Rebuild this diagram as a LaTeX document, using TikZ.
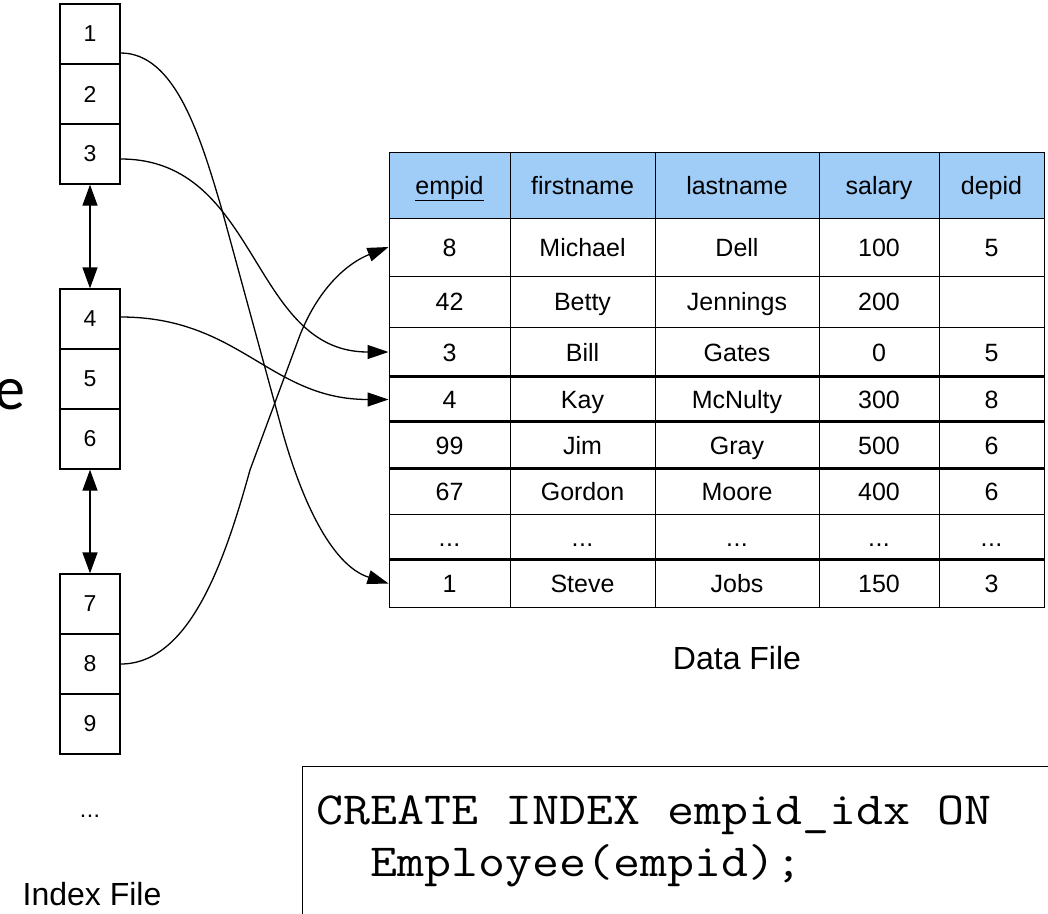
\documentclass[tikz,border=0pt]{standalone}
\usepackage{fontspec}
\usepackage{graphicx}
\setmainfont{Liberation Sans}
\newfontfamily\calib{Carlito}
\usetikzlibrary{arrows.meta,calc}
\definecolor{hdrblue}{HTML}{9FCDF7}
\newcommand\tdots{.\kern0.5pt.\kern0.5pt.}
\newcommand\codeline[1]{\scalebox{1.14}[1]{\ttfamily\fontsize{46}{52}\selectfont #1}}
\begin{document}
\begin{tikzpicture}[x=1pt,y=-1pt,
  idx/.style={draw, line width=1.3pt, minimum width=60pt, minimum height=60pt, inner sep=0pt, font=\fontsize{23}{26}\selectfont},
  cellbox/.style={draw, line width=1pt, inner sep=0pt, text height=18pt, text depth=0pt, font=\fontsize{25}{28}\selectfont},
  hdrbox/.style={cellbox, fill=hdrblue},
  link/.style={line width=1.3pt, -{Triangle[length=21pt,width=14pt]}},
  dbl/.style={line width=1.3pt, {Triangle[length=21pt,width=15pt]}-{Triangle[length=21pt,width=15pt]}},
  thickrule/.style={line width=2.2pt},
  lbl/.style={inner sep=0pt}
]
\useasboundingbox (0,0) rectangle (1048,913);
\clip (0,0) rectangle (1048,913);

% left cut-off letter
\node[lbl, anchor=base west, font=\calib\fontsize{62}{70}\selectfont] (etitle) at (-6,409) {e};

% index file
\foreach \n/\y in {1/34,2/94,3/154,4/319,5/379,6/439,7/604,8/664,9/724}
  \node[idx] (i\n) at (90,\y) {\n};
\draw[dbl] (i3.south) -- (i4.north);
\draw[dbl] (i6.south) -- (i7.north);
\node[lbl, anchor=base, font=\fontsize{23}{26}\selectfont] (idots) at (90,817) {\tdots};
\node[lbl, anchor=base, font=\fontsize{32}{36}\selectfont] (ilabel) at (92,905) {Index File};

% table header
\foreach \j/\x/\w/\t in {1/449.5/121/\underline{empid},2/582.5/145/firstname,3/737/164/lastname,4/879/120/salary,5/991.5/105/depid}
  \node[hdrbox, minimum width=\w pt, minimum height=66pt] (h\j) at (\x,185) {\t};

% table rows
\foreach \r/\yc/\h/\a/\b/\c/\d/\e in {
  1/247/58/8/Michael/Dell/100/5,
  2/301.5/51/42/Betty/Jennings/200/{},
  3/352/50/3/Bill/Gates/0/5,
  4/399.5/45/4/Kay/McNulty/300/8,
  5/445.5/47/99/Jim/Gray/500/6,
  6/491.5/45/67/Gordon/Moore/400/6,
  7/537/46/\tdots/\tdots/\tdots/\tdots/\tdots,
  8/583.5/47/1/Steve/Jobs/150/3}
{
  \node[cellbox, minimum width=121pt, minimum height=\h pt] (r\r-1) at (449.5,\yc) {\a};
  \node[cellbox, minimum width=145pt, minimum height=\h pt] (r\r-2) at (582.5,\yc) {\b};
  \node[cellbox, minimum width=164pt, minimum height=\h pt] (r\r-3) at (737,\yc) {\c};
  \node[cellbox, minimum width=120pt, minimum height=\h pt] (r\r-4) at (879,\yc) {\d};
  \node[cellbox, minimum width=105pt, minimum height=\h pt] (r\r-5) at (991.5,\yc) {\e};
}
\draw[thickrule] (r4-1.north west) -- (r4-5.north east);
\draw[thickrule] (r5-1.north west) -- (r5-5.north east);
\draw[thickrule] (r6-1.north west) -- (r6-5.north east);
\draw[thickrule] (r8-1.north west) -- (r8-5.north east);

\node[lbl, font=\fontsize{32}{36}\selectfont] (dlabel) at (737,658) {Data File};

% pointers
\draw[link] ($(i1.east)+(0,19)$) .. controls (175,53) and (200,135) .. (222,210)
   -- (282,430) .. controls (300,495) and (330,565) .. (r8-1.west);
\draw[link] ($(i3.east)+(0,5)$) .. controls (260,159) and (250,352) .. (r3-1.west);
\draw[link] ($(i4.east)+(0,-2)$) .. controls (240,317) and (270,399.5) .. (r4-1.west);
\draw[link] (i8.east) .. controls (190,664) and (225,560) .. (250,470)
   -- (300,335) .. controls (320,285) and (350,262) .. (r1-1.west);

% SQL box
\node[draw, line width=1.3pt, anchor=north west, minimum width=800pt, minimum height=300pt, inner sep=0pt] (codebox) at (302,766) {};
\node[lbl, anchor=base west] (code1) at (316,824) {\codeline{CREATE INDEX empid\_idx ON}};
\node[lbl, anchor=base west] (code2) at (316,876) {\codeline{\phantom{EE}Employee(empid);}};
\end{tikzpicture}
\end{document}
